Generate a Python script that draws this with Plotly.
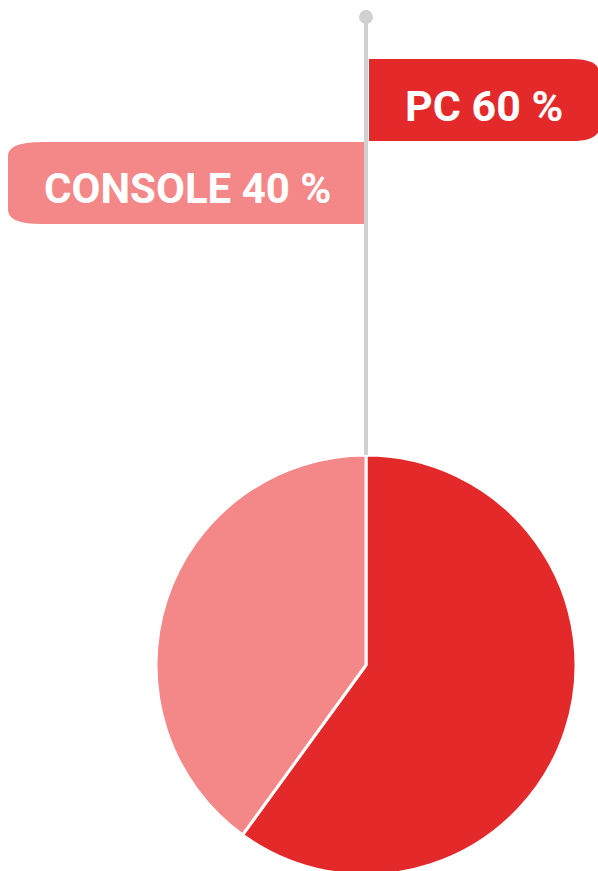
import plotly.graph_objects as go

labels = ["PC", "CONSOLE"]
values = [60, 40]
colors = ["#E4292A", "#F48787"]

W, H = 598, 875
FONT = "Roboto, sans-serif"

fig = go.Figure()

fig.add_trace(go.Pie(
    labels=labels, values=values, sort=False, direction="clockwise", rotation=0,
    marker=dict(colors=colors, line=dict(color="white", width=3)),
    textinfo="none", hoverinfo="label+percent", showlegend=False,
    domain=dict(x=[156 / W, 576 / W], y=[0, 1 - 455 / H]),
))

def rounded_box(x0, x1, y0, y1, rx, ry, side):
    if side == "right":
        return (f"M{x0},{y0} L{x1-rx},{y0} Q{x1},{y0} {x1},{y0+ry} "
                f"L{x1},{y1-ry} Q{x1},{y1} {x1-rx},{y1} L{x0},{y1} Z")
    return (f"M{x1},{y0} L{x0+rx},{y0} Q{x0},{y0} {x0},{y0+ry} "
            f"L{x0},{y1-ry} Q{x0},{y1} {x0+rx},{y1} L{x1},{y1} Z")

shapes = [
    dict(type="path", xref="x", yref="y", layer="below",
         path=rounded_box(369, 600, 59, 141, 28, 16, "right"),
         fillcolor=colors[0], line=dict(width=0)),
    dict(type="path", xref="x", yref="y", layer="below",
         path=rounded_box(8, 366, 142, 224, 34, 14, "left"),
         fillcolor=colors[1], line=dict(width=0)),
    dict(type="line", xref="x", yref="y", x0=366, x1=366, y0=17, y1=455,
         line=dict(color="#D0D0D0", width=4)),
    dict(type="circle", xref="x", yref="y", x0=359, x1=373, y0=10, y1=24,
         fillcolor="#D0D0D0", line=dict(width=0)),
]

annotations = [
    dict(x=484, y=106, xref="x", yref="y", showarrow=False,
         text=f"<b>{labels[0]} {values[0]} %</b>",
         font=dict(family=FONT, size=43, color="white"), xanchor="center", yanchor="middle"),
    dict(x=187, y=188, xref="x", yref="y", showarrow=False,
         text=f"<b>{labels[1]} {values[1]} %</b>",
         font=dict(family=FONT, size=42, color="white"), xanchor="center", yanchor="middle"),
]

fig.update_layout(
    width=W, height=H, margin=dict(l=0, r=0, t=0, b=0),
    paper_bgcolor="white", plot_bgcolor="rgba(0,0,0,0)",
    xaxis=dict(range=[0, W], visible=False, fixedrange=True),
    yaxis=dict(range=[H, 0], visible=False, fixedrange=True),
    shapes=shapes, annotations=annotations,
)

fig.write_html("out.html", config=dict(displayModeBar=False),
               post_script="document.body.style.margin='0';document.body.style.overflow='hidden';")
